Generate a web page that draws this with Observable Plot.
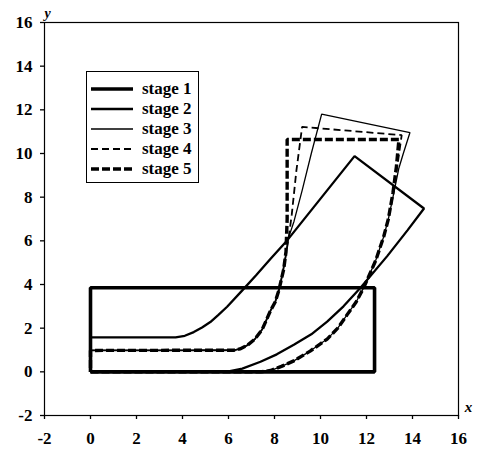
<!DOCTYPE html>
<html>
<head>
<meta charset="utf-8">
<script src="https://cdn.jsdelivr.net/npm/d3@7"></script>
<script src="https://cdn.jsdelivr.net/npm/@observablehq/plot@0.6"></script>
<style>
  html, body { margin: 0; padding: 0; background: #fff; }
  #wrap { position: relative; width: 480px; height: 451px; }
  #legend { position: absolute; left: 86px; top: 71px; width: 113px; height: 112px;
    border: 1px solid #000; box-sizing: border-box; background: #fff;
    font-family: "Liberation Serif", "Times New Roman", serif; font-weight: bold; font-size: 17px; }
  #legend .row { position: absolute; left: 4px; height: 20px; display: flex; align-items: center; }
  #legend svg { display: block; }
  #legend span { margin-left: 9px; line-height: 20px; }
</style>
</head>
<body>
<div id="wrap"></div>
<script>
// Outline of the body at each stage, [x, y] in data units
const stage1 = [[0,0],[12.35,0],[12.35,3.85],[0,3.85],[0,0]];
const stage2 = [[0,0],[5.9,0],[6.6,0.15],[7.39,0.46],[8.1,0.8],[8.84,1.24],[9.6,1.72],[10.29,2.3],
  [11.0,3.0],[11.74,3.85],[12.9,5.3],[13.78,6.48],[14.5,7.48],[11.48,9.88],[8.55,6.02],[7.83,5.18],
  [7.2,4.42],[6.6,3.73],[5.94,2.98],[5.55,2.6],[5.21,2.28],[4.85,2.03],[4.49,1.82],[4.1,1.65],
  [3.7,1.58],[0,1.58],[0,0]];
const stage3 = [[0,0],[7.4,0],[7.83,0.06],[8.3,0.25],[8.84,0.5],[9.55,0.95],[10.29,1.5],[10.75,2.0],
  [11.16,2.62],[11.55,3.2],[11.89,3.88],[12.4,5.1],[12.75,6.2],[12.95,7.0],[13.15,8.0],[13.4,9.3],
  [13.6,10.0],[13.89,10.96],[10.05,11.8],[9.6,10.0],[9.2,8.3],[8.85,6.9],[8.62,6.17],[8.48,5.26],
  [8.35,4.5],[8.19,3.73],[8.03,3.2],[7.83,2.81],[7.47,1.95],[7.15,1.5],[6.81,1.21],[6.5,1.05],
  [6.23,0.99],[0,0.98],[0,0]];
const stage4 = [[0,0],[7.4,0],[7.83,0.06],[8.3,0.25],[8.84,0.5],[9.55,0.95],[10.29,1.5],[10.75,2.0],
  [11.16,2.62],[11.55,3.2],[11.89,3.88],[12.4,5.1],[12.75,6.2],[12.95,7.0],[13.15,8.2],[13.35,9.5],
  [13.53,10.84],[9.2,11.22],[8.95,9.2],[8.75,7.2],[8.62,6.17],[8.48,5.26],[8.35,4.5],[8.19,3.73],
  [8.03,3.2],[7.83,2.81],[7.47,1.95],[7.15,1.5],[6.81,1.21],[6.5,1.05],[6.23,0.99],[0,0.98],[0,0]];
const stage5 = [[0,0],[7.4,0],[7.83,0.06],[8.3,0.25],[8.84,0.5],[9.55,0.95],[10.29,1.5],[10.75,2.0],
  [11.16,2.62],[11.55,3.2],[11.89,3.88],[12.4,5.1],[12.75,6.2],[12.95,7.0],[13.15,8.2],[13.3,9.4],
  [13.41,10.64],[8.55,10.64],[8.55,7.0],[8.5,5.5],[8.4,4.7],[8.19,3.73],[8.03,3.2],[7.83,2.81],
  [7.47,1.95],[7.15,1.5],[6.81,1.21],[6.5,1.05],[6.23,0.99],[0,0.98],[0,0]];
const stageNames = ["stage 1", "stage 2", "stage 3", "stage 4", "stage 5"];
const tickValues = [-2, 0, 2, 4, 6, 8, 10, 12, 14, 16];

const styles = [
  {strokeWidth: 3.6, dash: null},
  {strokeWidth: 2.3, dash: null},
  {strokeWidth: 1.3, dash: null},
  {strokeWidth: 1.8, dash: "7,4"},
  {strokeWidth: 3.4, dash: "8,3"}
];
const stages = [stage1, stage2, stage3, stage4, stage5];
const rows = stages.map((pts, i) => pts.map(([x, y], j) => ({stage: stageNames[i], x, y, j})));

const font = '"Liberation Serif", "Times New Roman", serif';
const lineMarks = rows.map((data, i) => Plot.line(data, {
  x: "x", y: "y", stroke: "#000", strokeWidth: styles[i].strokeWidth,
  strokeDasharray: styles[i].dash, strokeLinejoin: "miter", strokeLinecap: "butt"
}));

const chart = Plot.plot({
  width: 480, height: 451,
  marginLeft: 44, marginRight: 22, marginTop: 22, marginBottom: 36,
  style: {fontFamily: font, fontSize: "17px", fontWeight: "bold", background: "#fff", color: "#000"},
  x: {domain: [-2, 16], ticks: tickValues, tickFormat: d => d, label: null},
  y: {domain: [-2, 16], ticks: tickValues, tickFormat: d => d, label: null},
  marks: [
    Plot.frame({stroke: "#000", strokeWidth: 1.2}),
    Plot.axisX({ticks: tickValues, tickSize: 4, tickPadding: 12, label: null, tickFormat: d => d, strokeWidth: 1.3, fontWeight: "bold"}),
    Plot.axisY({ticks: tickValues, tickSize: 4, tickPadding: 8, label: null, tickFormat: d => d, strokeWidth: 1.3, fontWeight: "bold"}),
    ...lineMarks,
    Plot.text(["x"], {frameAnchor: "bottom-right", text: d => d, dx: 10, dy: -4, fontStyle: "italic", fontWeight: "bold", fontSize: 15, textAnchor: "middle"}),
    Plot.text(["y"], {frameAnchor: "top-left", text: d => d, dx: 3, dy: -14, fontStyle: "italic", fontWeight: "bold", fontSize: 14, textAnchor: "middle"})
  ]
});

const wrap = document.getElementById("wrap");
wrap.appendChild(chart);

// Legend drawn inside the plot area
const legend = document.createElement("div");
legend.id = "legend";
stageNames.forEach((name, i) => {
  const row = document.createElement("div");
  row.className = "row";
  row.style.top = (7 + i * 20) + "px";
  const s = d3.create("svg").attr("width", 42).attr("height", 20);
  s.append("line").attr("x1", 0).attr("x2", 42).attr("y1", 10).attr("y2", 10)
    .attr("stroke", "#000").attr("stroke-width", styles[i].strokeWidth)
    .attr("stroke-dasharray", styles[i].dash);
  row.appendChild(s.node());
  const t = document.createElement("span");
  t.textContent = name;
  row.appendChild(t);
  legend.appendChild(row);
});
wrap.appendChild(legend);
</script>
</body>
</html>
